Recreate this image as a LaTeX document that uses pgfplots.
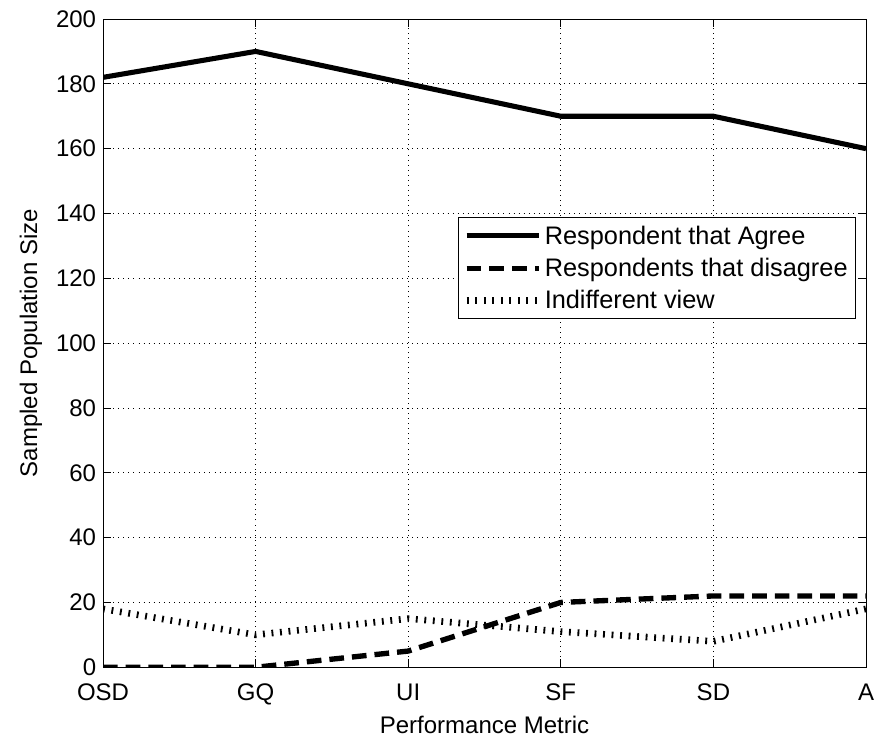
\documentclass[border=0pt]{standalone}
\usepackage{pgfplots}
\pgfplotsset{compat=1.18}
\usepackage{fontspec}
\setmainfont{Liberation Sans}
\begin{document}
\begin{tikzpicture}
\begin{axis}[
  scale only axis,
  width=572pt, height=486pt,
  xmin=0, xmax=5, ymin=0, ymax=200,
  xtick={0,1,2,3,4,5},
  xticklabels={OSD,GQ,UI,SF,SD,A},
  ytick={0,20,...,200},
  /pgf/number format/assume math mode=true,
  tick label style={font=\fontsize{18}{21}\selectfont},
  label style={font=\fontsize{18}{21}\selectfont},
  xticklabel style={inner sep=1pt, yshift=-11pt},
  yticklabel style={inner sep=1pt, xshift=-4pt},
  xlabel={Performance Metric},
  ylabel={Sampled Population Size},
  xlabel style={yshift=-4pt},
  ylabel style={yshift=6pt},
  tick align=inside,
  major tick length=6pt,
  xtick pos=both, ytick pos=both,
  grid=major,
  major grid style={black, line width=0.6pt, dash pattern=on 0.6pt off 3.2pt},
  axis line style={line width=0.6pt},
  every tick/.style={black, line width=0.6pt},
  legend style={at={(0.987,0.694)}, anchor=north east, draw=black, line width=0.6pt,
    font=\fontsize{19}{22}\selectfont, row sep=5pt, inner sep=4pt},
  legend cell align=left,
  legend image code/.code={\draw[#1] (0pt,0pt) -- (54pt,0pt);},
]
\addplot[black, line width=3.8pt, line join=round] coordinates {(0,182) (1,190) (2,180) (3,170) (4,170) (5,160)};
\addlegendentry{Respondent that Agree}
\addplot[black, line width=4pt, dash pattern=on 11pt off 6pt] coordinates {(0,0) (1,0) (2,5) (3,20) (4,22) (5,22)};
\addlegendentry{Respondents that disagree}
\addplot[black, line width=5pt, dash pattern=on 1.4pt off 5pt] coordinates {(0,18) (1,10) (2,15) (3,11) (4,8) (5,18)};
\addlegendentry{Indifferent view}
\coordinate (sw) at (rel axis cs:0,0);
\coordinate (ne) at (rel axis cs:1,1);
\end{axis}
\path ([xshift=-77.25pt,yshift=-54.75pt]sw) rectangle ([xshift=7.5pt,yshift=14.25pt]ne);
\end{tikzpicture}
\end{document}
